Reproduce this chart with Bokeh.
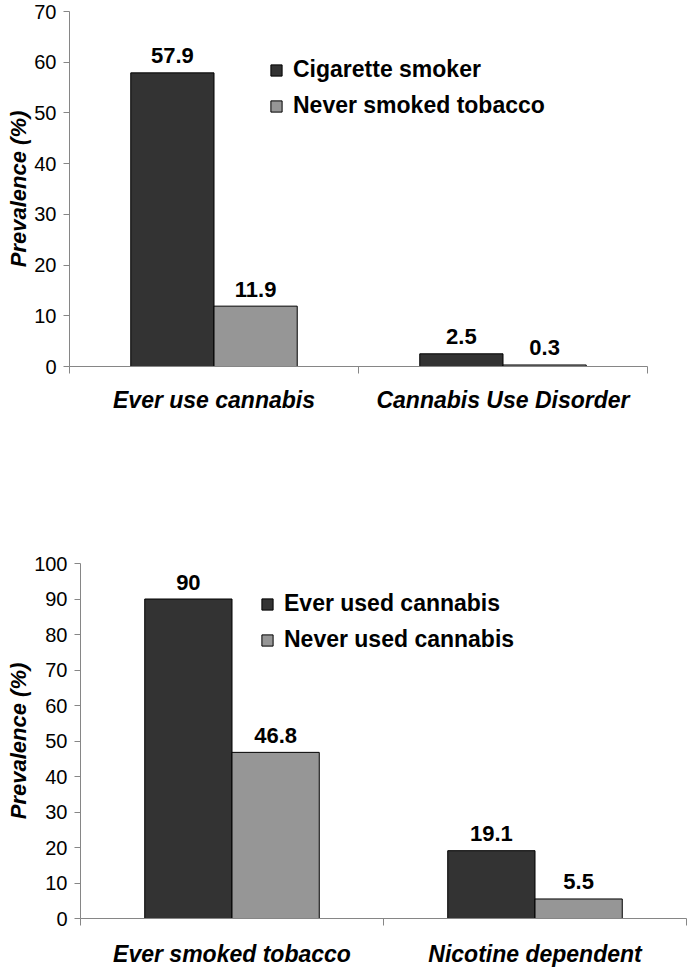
from bokeh.plotting import figure
from bokeh.models import Range1d, FixedTicker, ColumnDataSource
from bokeh.core.properties import value
from bokeh.embed import file_html
from bokeh.resources import INLINE

# ---- data ----
top_categories = ["Ever use cannabis", "Cannabis Use Disorder"]
top_series = ["Cigarette smoker", "Never smoked tobacco"]
top_cig_smoker = [57.9, 2.5]
top_never_smoked = [11.9, 0.3]
top_yticks = [0, 10, 20, 30, 40, 50, 60, 70]

bot_categories = ["Ever smoked tobacco", "Nicotine dependent"]
bot_series = ["Ever used cannabis", "Never used cannabis"]
bot_ever_cannabis = [90, 19.1]
bot_never_cannabis = [46.8, 5.5]
bot_yticks = [0, 10, 20, 30, 40, 50, 60, 70, 80, 90, 100]

y_title = "Prevalence (%)"

# ---- style ----
DARK = "#333333"
GRAY = "#969696"
AXIS = "#868686"
FONT = "Liberation Sans"
BAR_W = 0.288


def make_chart(categories, series, vals_a, vals_b, yticks, width, height,
               x_end, min_left, min_right, min_top, min_bottom, cat_standoff,
               legend_loc):
    n = len(categories)
    p = figure(output_backend="svg", toolbar_location=None,
               width=width, height=height,
               x_range=Range1d(0, x_end), y_range=Range1d(0, yticks[-1]),
               min_border_left=min_left, min_border_right=min_right,
               min_border_top=min_top, min_border_bottom=min_bottom)
    p.outline_line_color = None
    p.xgrid.visible = False
    p.ygrid.visible = False
    p.background_fill_color = "white"
    p.border_fill_color = "white"

    centers = [i + 0.5 for i in range(n)]
    src_a = ColumnDataSource(dict(x=[c - BAR_W / 2 for c in centers], top=vals_a,
                                  lab=[f"{v:g}" for v in vals_a]))
    src_b = ColumnDataSource(dict(x=[c + BAR_W / 2 for c in centers], top=vals_b,
                                  lab=[f"{v:g}" for v in vals_b]))
    p.vbar(x="x", top="top", bottom=0, width=BAR_W, source=src_a,
           fill_color=DARK, line_color="black", line_width=1,
           legend_label=series[0])
    p.vbar(x="x", top="top", bottom=0, width=BAR_W, source=src_b,
           fill_color=GRAY, line_color="black", line_width=1,
           legend_label=series[1])
    for src in (src_a, src_b):
        p.text(x="x", y="top", text="lab", source=src, text_align="center",
               text_baseline="alphabetic", y_offset=-17,
               text_font=value(FONT), text_font_size="22px",
               text_font_style="bold", text_color="black")

    # y axis
    ya = p.yaxis[0]
    ya.ticker = FixedTicker(ticks=yticks)
    ya.axis_line_color = AXIS
    ya.major_tick_line_color = AXIS
    ya.major_tick_out = 6
    ya.major_tick_in = 0
    ya.minor_tick_line_color = None
    ya.major_label_text_font = FONT
    ya.major_label_text_font_size = "20px"
    ya.major_label_text_color = "black"
    ya.major_label_standoff = 7
    ya.axis_label = y_title
    ya.axis_label_text_font = FONT
    ya.axis_label_text_font_size = "22px"
    ya.axis_label_text_font_style = "bold italic"
    ya.axis_label_text_color = "black"
    ya.axis_label_standoff = 0

    # x axis: boundary ticks as minor ticks, category names at centres
    xa = p.xaxis[0]
    xa.ticker = FixedTicker(ticks=centers, minor_ticks=list(range(n + 1)))
    xa.major_label_overrides = {c: cat for c, cat in zip(centers, categories)}
    xa.axis_line_color = AXIS
    xa.major_tick_line_color = None
    xa.major_tick_out = 0
    xa.major_tick_in = 0
    xa.minor_tick_line_color = AXIS
    xa.minor_tick_out = 7
    xa.minor_tick_in = 0
    xa.major_label_text_font = FONT
    xa.major_label_text_font_size = "23px"
    xa.major_label_text_font_style = "bold italic"
    xa.major_label_text_color = "black"
    xa.major_label_standoff = cat_standoff

    lg = p.legend[0]
    lg.location = legend_loc
    lg.border_line_color = None
    lg.background_fill_alpha = 0
    lg.padding = 0
    lg.margin = 0
    lg.spacing = 9
    lg.glyph_width = 14
    lg.glyph_height = 14
    lg.label_standoff = 10
    lg.label_height = 26
    lg.label_text_font = FONT
    lg.label_text_font_size = "23px"
    lg.label_text_font_style = "bold"
    lg.label_text_color = "black"
    return p


# top: frame x 69..647, y 11..366 ; figure 687 x 426
p1 = make_chart(top_categories, top_series, top_cig_smoker, top_never_smoked,
                top_yticks, width=687, height=426, x_end=2.0,
                min_left=69, min_right=40, min_top=11, min_bottom=60,
                cat_standoff=13, legend_loc=(200, 247))
# bottom: frame x 80..686, y 563..919 ; figure 687 x 543
p2 = make_chart(bot_categories, bot_series, bot_ever_cannabis, bot_never_cannabis,
                bot_yticks, width=687, height=543, x_end=2.0,
                min_left=80, min_right=1, min_top=137, min_bottom=50,
                cat_standoff=15, legend_loc=(180, 265))

open("out.html", "w").write(file_html([p1, p2], INLINE))
